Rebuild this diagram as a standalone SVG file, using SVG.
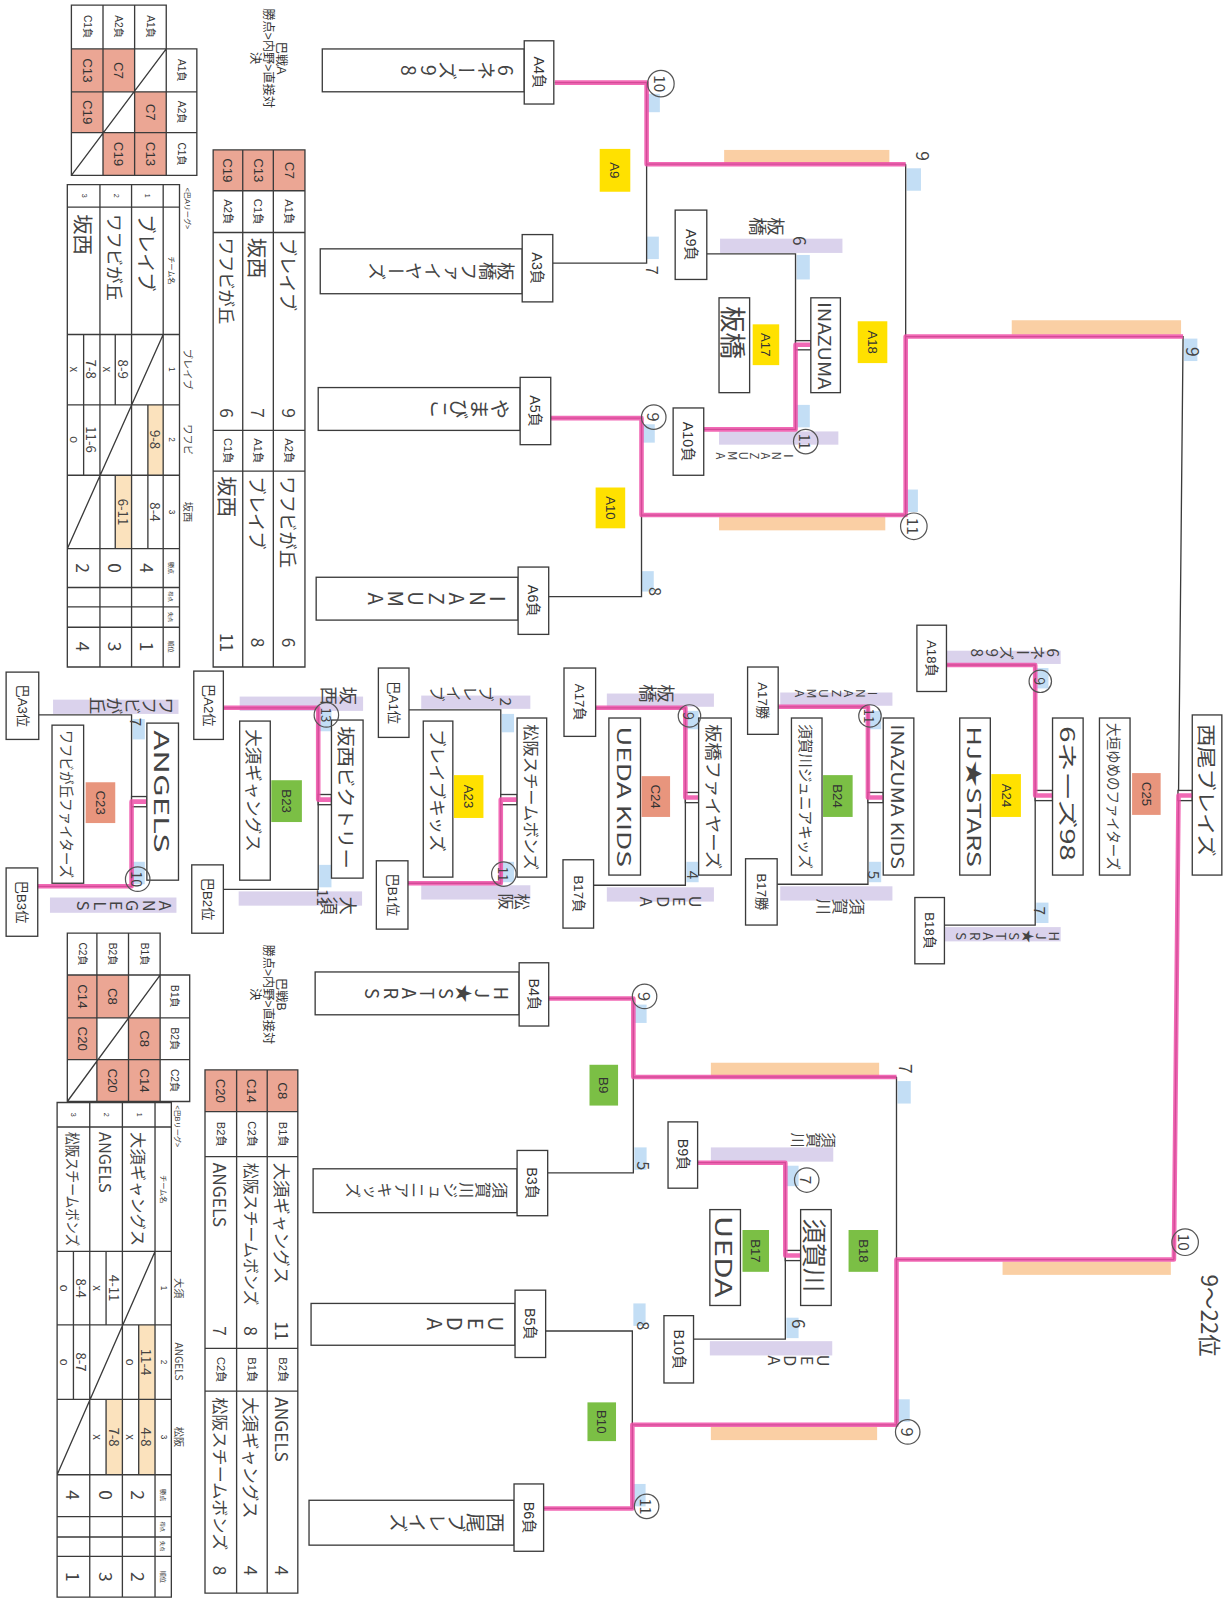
<svg xmlns="http://www.w3.org/2000/svg" width="1231" height="1599" viewBox="0 0 1231 1599">
<style>
.bx{fill:#fff;stroke:#3b3b3b;stroke-width:1.3}
.ln{fill:none;stroke:#3b3b3b;stroke-width:1.3}
.pk{fill:none;stroke:#ee4fa8;stroke-width:4.5;stroke-linejoin:round;opacity:.85}
.or{fill:#f9c794;opacity:.85}
.lv{fill:#d6cdea;opacity:.9}
.bl{fill:#bcdaf4;opacity:.9}
.ye{fill:#ffe100}
.gr{fill:#7bbf45}
.sa{fill:#e8957d}
.cp{fill:#eba694}
.hl{fill:#fbe2bd}
.t{font-family:"Liberation Sans","Noto Sans CJK JP",sans-serif;fill:#333;text-anchor:middle;dominant-baseline:central}
.s{text-anchor:start}
.h{font-family:"Noto Sans CJK JP","Noto Sans CJK SC",sans-serif;fill:#444;dominant-baseline:central}
.hm{font-family:"Noto Sans CJK JP","Noto Sans CJK SC",sans-serif;fill:#444;text-anchor:middle;dominant-baseline:central}
.v{writing-mode:vertical-rl;text-orientation:upright}
.c{fill:none;stroke:#555;stroke-width:1.2}
</style>
<rect width="1231" height="1599" fill="#fff"/>
<g transform="scale(1.0199)">

<g id="highlights">
<rect class="or" x="710" y="147" width="162" height="13"/>
<rect class="or" x="705" y="507" width="163" height="13"/>
<rect class="or" x="992" y="314" width="166" height="14"/>
<rect class="or" x="697" y="1042" width="165" height="13"/>
<rect class="or" x="697" y="1399" width="163" height="13"/>
<rect class="or" x="983" y="1237" width="165" height="13"/>
<rect class="lv" x="706" y="234" width="120" height="14"/>
<rect class="lv" x="705" y="423" width="117" height="13"/>
<rect class="lv" x="697" y="1125" width="120" height="14"/>
<rect class="lv" x="696" y="1315" width="120" height="14"/>
<rect class="lv" x="52" y="686" width="123" height="14"/>
<rect class="lv" x="49" y="880" width="124" height="15"/>
<rect class="lv" x="235" y="683" width="121" height="14"/>
<rect class="lv" x="234" y="874" width="121" height="14"/>
<rect class="lv" x="413" y="682" width="107" height="13"/>
<rect class="lv" x="413" y="868" width="107" height="14"/>
<rect class="lv" x="595" y="680" width="105" height="13"/>
<rect class="lv" x="595" y="870" width="105" height="14"/>
<rect class="lv" x="765" y="679" width="110" height="13"/>
<rect class="lv" x="765" y="869" width="110" height="14"/>
<rect class="lv" x="925" y="638" width="115" height="13"/>
<rect class="lv" x="925" y="909" width="115" height="14"/>
<rect class="bl" x="635" y="92" width="12" height="18"/>
<rect class="bl" x="634" y="232" width="12" height="22"/>
<rect class="bl" x="630" y="416" width="12" height="18"/>
<rect class="bl" x="629" y="560" width="12" height="20"/>
<rect class="bl" x="889" y="165" width="14" height="22"/>
<rect class="bl" x="887" y="480" width="13" height="22"/>
<rect class="bl" x="1161" y="332" width="13" height="22"/>
<rect class="bl" x="781" y="250" width="13" height="24"/>
<rect class="bl" x="781" y="397" width="13" height="22"/>
<rect class="bl" x="622" y="985" width="12" height="18"/>
<rect class="bl" x="622" y="1125" width="12" height="22"/>
<rect class="bl" x="621" y="1278" width="12" height="22"/>
<rect class="bl" x="621" y="1455" width="12" height="22"/>
<rect class="bl" x="880" y="1060" width="13" height="22"/>
<rect class="bl" x="879" y="1372" width="13" height="22"/>
<rect class="bl" x="771" y="1143" width="12" height="20"/>
<rect class="bl" x="771" y="1292" width="12" height="20"/>
<rect class="bl" x="130" y="705" width="12" height="20"/>
<rect class="bl" x="130" y="845" width="12" height="22"/>
<rect class="bl" x="313" y="697" width="12" height="20"/>
<rect class="bl" x="313" y="848" width="12" height="22"/>
<rect class="bl" x="492" y="700" width="12" height="18"/>
<rect class="bl" x="492" y="845" width="12" height="20"/>
<rect class="bl" x="673" y="697" width="12" height="18"/>
<rect class="bl" x="673" y="845" width="12" height="20"/>
<rect class="bl" x="852" y="697" width="12" height="18"/>
<rect class="bl" x="852" y="845" width="12" height="20"/>
<rect class="bl" x="1016" y="655" width="12" height="20"/>
<rect class="bl" x="1016" y="885" width="12" height="20"/>
</g>

<g id="connectors">
<path class="ln" d="M544 81H634V258H542M634 161H888M540 410H629V585H538M629 505H888M888 161V505M888 330H1160L1151 1235M693 249H780V421H690"/>
<path class="ln" d="M538 979H621V1150H537M621 1056H879M535 1305H620V1479H533M620 1397H879M879 1056V1397M879 1235H1151M684 1140H770V1313H680"/>
<path class="ln" d="M38 701H129V869H37M219 694H312V872H219M401 696H491V866H400M584 694H672V868H582M763 693H851V867H762M928 652H1015V907H926"/>
<rect class="bx" x="780" y="334" width="15" height="9"/>
<rect class="bx" x="770" y="1226" width="15" height="10"/>
<rect class="bx" x="129" y="781" width="15" height="10"/>
<rect class="bx" x="312" y="779" width="13" height="10"/>
<rect class="bx" x="491" y="779" width="16" height="10"/>
<rect class="bx" x="672" y="777" width="13" height="10"/>
<rect class="bx" x="851" y="777" width="15" height="10"/>
<rect class="bx" x="1015" y="775" width="17" height="10"/>
<rect class="bx" x="1155" y="775" width="14" height="10"/>
<path class="pk" d="M544 81H634V161H888"/>
<path class="pk" d="M540 410H629V505H888V330H1160"/>
<path class="pk" d="M533 1479H620V1397H879V1235H1151L1155.5 780H1169"/>
<path class="pk" d="M538 979H621V1056H879"/>
<path class="pk" d="M690 421H780V338H795"/>
<path class="pk" d="M684 1140H770V1231H785"/>
<path class="pk" d="M37 869H129V786H144"/>
<path class="pk" d="M219 694H312V784H325"/>
<path class="pk" d="M400 866H491V784H507"/>
<path class="pk" d="M584 694H672V782H685"/>
<path class="pk" d="M763 693H851V782H866"/>
<path class="pk" d="M928 652H1015V780H1032"/>
</g>

<g id="header-a">
<text class="t" font-size="12" transform="translate(276,57) rotate(90)">巴戦A</text>
<text class="t" font-size="12" transform="translate(263,57) rotate(90)">勝点&gt;内野&gt;直接対</text>
<text class="t" font-size="12" transform="translate(250,57) rotate(90)">決</text>
</g>
<g id="header-b">
<text class="t" font-size="12" transform="translate(276,975) rotate(90)">巴戦B</text>
<text class="t" font-size="12" transform="translate(263,975) rotate(90)">勝点&gt;内野&gt;直接対</text>
<text class="t" font-size="12" transform="translate(250,975) rotate(90)">決</text>
</g>

<g id="cross-a">
<rect class="cp" x="132" y="90" width="31" height="40"/><rect class="cp" x="132" y="130" width="31" height="42"/>
<rect class="cp" x="101" y="48" width="31" height="42"/><rect class="cp" x="101" y="130" width="31" height="42"/>
<rect class="cp" x="70" y="48" width="31" height="42"/><rect class="cp" x="70" y="90" width="31" height="40"/>
<path class="ln" d="M70 5H163V48H193V172H70ZM70 48H163M101 5V172M132 5V172M163 48V172M70 90H193M70 130H193M163 48L70 172"/>
<text class="t" font-size="10" transform="translate(85.5,26) rotate(90)">C1負</text>
<text class="t" font-size="10" transform="translate(116.5,26) rotate(90)">A2負</text>
<text class="t" font-size="10" transform="translate(147.5,26) rotate(90)">A1負</text>
<text class="t" font-size="10" transform="translate(178,69) rotate(90)">A1負</text>
<text class="t" font-size="10" transform="translate(178,110) rotate(90)">A2負</text>
<text class="t" font-size="10" transform="translate(178,151) rotate(90)">C1負</text>
<text class="t" font-size="13" transform="translate(147.5,110) rotate(90)">C7</text>
<text class="t" font-size="13" transform="translate(147.5,151) rotate(90)">C13</text>
<text class="t" font-size="13" transform="translate(116.5,69) rotate(90)">C7</text>
<text class="t" font-size="13" transform="translate(116.5,151) rotate(90)">C19</text>
<text class="t" font-size="13" transform="translate(85.5,69) rotate(90)">C13</text>
<text class="t" font-size="13" transform="translate(85.5,110) rotate(90)">C19</text>
</g>

<g id="league-a">
<rect class="hl" x="145" y="397" width="15" height="69"/>
<rect class="hl" x="113" y="466" width="16" height="72"/>
<path class="ln" d="M66 181H176V654H66ZM98 181V654M129 181V654M160 181V654M66 203H176M66 328H176M66 397H176M66 466H176M66 538H176M66 576H176M66 615H176M66 595H176M160 328L66 538M145 397V538M113 328V397M113 466V538M82 328V466"/>
<text class="t s" font-size="7" transform="translate(183,184) rotate(90)">&lt;巴Aリーグ&gt;</text>
<text class="t" font-size="7" transform="translate(168,265) rotate(90)">チーム名</text>
<text class="t" font-size="8" transform="translate(168,362) rotate(90)">1</text>
<text class="t" font-size="8" transform="translate(168,431) rotate(90)">2</text>
<text class="t" font-size="8" transform="translate(168,502) rotate(90)">3</text>
<text class="t" font-size="6" transform="translate(168,557) rotate(90)">勝点</text>
<text class="t" font-size="5" transform="translate(168,585) rotate(90)">得点</text>
<text class="t" font-size="5" transform="translate(168,605) rotate(90)">失点</text>
<text class="t" font-size="6" transform="translate(168,634) rotate(90)">順位</text>
<text class="t" font-size="7" transform="translate(144.5,192) rotate(90)">1</text>
<text class="t" font-size="7" transform="translate(113.5,192) rotate(90)">2</text>
<text class="t" font-size="7" transform="translate(82,192) rotate(90)">3</text>
<text class="h" font-size="19" transform="translate(144.5,210) rotate(90)">ブレイブ</text>
<text class="h" font-size="17" transform="translate(113.5,210) rotate(90)">ワフビが丘</text>
<text class="h" font-size="20" transform="translate(82,210) rotate(90)">坂西</text>
<text class="hm" font-size="10" transform="translate(185,362) rotate(90)">ブレイブ</text>
<text class="hm" font-size="10" transform="translate(185,431) rotate(90)">ワフビ</text>
<text class="hm" font-size="10" transform="translate(185,502) rotate(90)">坂西</text>
<text class="hm" font-size="13" transform="translate(152.5,431) rotate(90)">9-8</text>
<text class="hm" font-size="13" transform="translate(152.5,502) rotate(90)">8-4</text>
<text class="hm" font-size="13" transform="translate(121,362) rotate(90)">8-9</text>
<text class="hm" font-size="11" transform="translate(106,362) rotate(90)">x</text>
<text class="hm" font-size="13" transform="translate(121,502) rotate(90)">6-11</text>
<text class="hm" font-size="13" transform="translate(90,362) rotate(90)">7-8</text>
<text class="hm" font-size="11" transform="translate(74,362) rotate(90)">x</text>
<text class="hm" font-size="13" transform="translate(90,431) rotate(90)">11-6</text>
<text class="hm" font-size="11" transform="translate(74,431) rotate(90)">o</text>
<text class="hm" font-size="17" transform="translate(144.5,557) rotate(90)">4</text>
<text class="hm" font-size="17" transform="translate(113.5,557) rotate(90)">0</text>
<text class="hm" font-size="17" transform="translate(82,557) rotate(90)">2</text>
<text class="hm" font-size="17" transform="translate(144.5,634) rotate(90)">1</text>
<text class="hm" font-size="17" transform="translate(113.5,634) rotate(90)">3</text>
<text class="hm" font-size="17" transform="translate(82,634) rotate(90)">4</text>
</g>

<g id="result-a">
<rect class="cp" x="209" y="147" width="90" height="40"/>
<path class="ln" d="M209 147H299V654H209ZM238 147V654M268 147V654M209 187H299M209 228H299M209 422H299M209 462H299"/>
<text class="t" font-size="13" transform="translate(283.5,167) rotate(90)">C7</text>
<text class="t" font-size="13" transform="translate(253,167) rotate(90)">C13</text>
<text class="t" font-size="13" transform="translate(223.5,167) rotate(90)">C19</text>
<text class="t" font-size="11" transform="translate(283.5,207.5) rotate(90)">A1負</text>
<text class="t" font-size="11" transform="translate(253,207.5) rotate(90)">C1負</text>
<text class="t" font-size="11" transform="translate(223.5,207.5) rotate(90)">A2負</text>
<text class="h" font-size="18" transform="translate(283.5,233) rotate(90)">ブレイブ</text>
<text class="h" font-size="20" transform="translate(253,233) rotate(90)">坂西</text>
<text class="h" font-size="17" transform="translate(223.5,233) rotate(90)">ワフビが丘</text>
<text class="hm" font-size="17" transform="translate(283.5,405) rotate(90)">9</text>
<text class="hm" font-size="17" transform="translate(253,405) rotate(90)">7</text>
<text class="hm" font-size="17" transform="translate(223.5,405) rotate(90)">6</text>
<text class="t" font-size="11" transform="translate(283.5,442) rotate(90)">A2負</text>
<text class="t" font-size="11" transform="translate(253,442) rotate(90)">A1負</text>
<text class="t" font-size="11" transform="translate(223.5,442) rotate(90)">C1負</text>
<text class="h" font-size="18" transform="translate(283.5,467) rotate(90)">ワフビが丘</text>
<text class="h" font-size="18" transform="translate(253,467) rotate(90)">ブレイブ</text>
<text class="h" font-size="20" transform="translate(223.5,467) rotate(90)">坂西</text>
<text class="hm" font-size="17" transform="translate(283.5,630) rotate(90)">6</text>
<text class="hm" font-size="17" transform="translate(253,630) rotate(90)">8</text>
<text class="hm" font-size="17" transform="translate(223.5,630) rotate(90)">11</text>
</g>

<g id="cross-b">
<rect class="cp" x="126" y="998" width="31" height="41"/><rect class="cp" x="126" y="1039" width="31" height="41"/>
<rect class="cp" x="95" y="956" width="31" height="42"/><rect class="cp" x="95" y="1039" width="31" height="41"/>
<rect class="cp" x="66" y="956" width="29" height="42"/><rect class="cp" x="66" y="998" width="29" height="41"/>
<path class="ln" d="M66 915H157V956H186V1080H66ZM66 956H157M95 915V1080M126 915V1080M157 956V1080M66 998H186M66 1039H186M157 956L66 1080"/>
<text class="t" font-size="10" transform="translate(80.5,935.5) rotate(90)">C2負</text>
<text class="t" font-size="10" transform="translate(110.5,935.5) rotate(90)">B2負</text>
<text class="t" font-size="10" transform="translate(141.5,935.5) rotate(90)">B1負</text>
<text class="t" font-size="10" transform="translate(171.5,977) rotate(90)">B1負</text>
<text class="t" font-size="10" transform="translate(171.5,1018.5) rotate(90)">B2負</text>
<text class="t" font-size="10" transform="translate(171.5,1059.5) rotate(90)">C2負</text>
<text class="t" font-size="13" transform="translate(141.5,1018.5) rotate(90)">C8</text>
<text class="t" font-size="13" transform="translate(141.5,1059.5) rotate(90)">C14</text>
<text class="t" font-size="13" transform="translate(110.5,977) rotate(90)">C8</text>
<text class="t" font-size="13" transform="translate(110.5,1059.5) rotate(90)">C20</text>
<text class="t" font-size="13" transform="translate(80.5,977) rotate(90)">C14</text>
<text class="t" font-size="13" transform="translate(80.5,1018.5) rotate(90)">C20</text>
</g>

<g id="league-b">
<rect class="hl" x="136" y="1299" width="16" height="147"/>
<rect class="hl" x="104" y="1372" width="16" height="74"/>
<path class="ln" d="M56 1081H168V1566H56ZM88 1081V1566M120 1081V1566M152 1081V1566M56 1105H168M56 1227H168M56 1299H168M56 1372H168M56 1446H168M56 1487H168M56 1526H168M56 1507H168M152 1227L56 1446M136 1299V1446M104 1227V1299M104 1372V1446M72 1227V1372"/>
<text class="t s" font-size="7" transform="translate(174,1084) rotate(90)">&lt;巴Bリーグ&gt;</text>
<text class="t" font-size="7" transform="translate(160,1166) rotate(90)">チーム名</text>
<text class="t" font-size="8" transform="translate(160,1263) rotate(90)">1</text>
<text class="t" font-size="8" transform="translate(160,1335.5) rotate(90)">2</text>
<text class="t" font-size="8" transform="translate(160,1409) rotate(90)">3</text>
<text class="t" font-size="6" transform="translate(160,1466) rotate(90)">勝点</text>
<text class="t" font-size="5" transform="translate(160,1497) rotate(90)">得点</text>
<text class="t" font-size="5" transform="translate(160,1516) rotate(90)">失点</text>
<text class="t" font-size="6" transform="translate(160,1546) rotate(90)">順位</text>
<text class="t" font-size="7" transform="translate(136,1093) rotate(90)">1</text>
<text class="t" font-size="7" transform="translate(104,1093) rotate(90)">2</text>
<text class="t" font-size="7" transform="translate(72,1093) rotate(90)">3</text>
<text class="h" font-size="16" transform="translate(136,1110) rotate(90)">大須ギャングス</text>
<text class="h" font-size="16" transform="translate(104,1110) rotate(90)">ANGELS</text>
<text class="h" font-size="14" transform="translate(72,1110) rotate(90)" textLength="112" lengthAdjust="spacingAndGlyphs">松阪スチームボンズ</text>
<text class="hm" font-size="10" transform="translate(176,1263) rotate(90)">大須</text>
<text class="hm" font-size="10" transform="translate(176,1335) rotate(90)">ANGELS</text>
<text class="hm" font-size="10" transform="translate(176,1409) rotate(90)">松阪</text>
<text class="hm" font-size="13" transform="translate(144,1335.5) rotate(90)">11-4</text>
<text class="hm" font-size="11" transform="translate(128,1335.5) rotate(90)">o</text>
<text class="hm" font-size="13" transform="translate(144,1409) rotate(90)">4-8</text>
<text class="hm" font-size="11" transform="translate(128,1409) rotate(90)">x</text>
<text class="hm" font-size="13" transform="translate(112,1263) rotate(90)">4-11</text>
<text class="hm" font-size="11" transform="translate(96,1263) rotate(90)">x</text>
<text class="hm" font-size="13" transform="translate(112,1409) rotate(90)">7-8</text>
<text class="hm" font-size="11" transform="translate(96,1409) rotate(90)">x</text>
<text class="hm" font-size="13" transform="translate(80,1263) rotate(90)">8-4</text>
<text class="hm" font-size="11" transform="translate(64,1263) rotate(90)">o</text>
<text class="hm" font-size="13" transform="translate(80,1335.5) rotate(90)">8-7</text>
<text class="hm" font-size="11" transform="translate(64,1335.5) rotate(90)">o</text>
<text class="hm" font-size="17" transform="translate(136,1466) rotate(90)">2</text>
<text class="hm" font-size="17" transform="translate(104,1466) rotate(90)">0</text>
<text class="hm" font-size="17" transform="translate(72,1466) rotate(90)">4</text>
<text class="hm" font-size="17" transform="translate(136,1546) rotate(90)">2</text>
<text class="hm" font-size="17" transform="translate(104,1546) rotate(90)">3</text>
<text class="hm" font-size="17" transform="translate(72,1546) rotate(90)">1</text>
</g>

<g id="result-b">
<rect class="cp" x="201" y="1049" width="91" height="41"/>
<path class="ln" d="M201 1049H292V1562H201ZM232 1049V1562M262 1049V1562M201 1090H292M201 1134H292M201 1322H292M201 1364H292"/>
<text class="t" font-size="13" transform="translate(277,1069.5) rotate(90)">C8</text>
<text class="t" font-size="13" transform="translate(247,1069.5) rotate(90)">C14</text>
<text class="t" font-size="13" transform="translate(216.5,1069.5) rotate(90)">C20</text>
<text class="t" font-size="11" transform="translate(277,1112) rotate(90)">B1負</text>
<text class="t" font-size="11" transform="translate(247,1112) rotate(90)">C2負</text>
<text class="t" font-size="11" transform="translate(216.5,1112) rotate(90)">B2負</text>
<text class="h" font-size="17" transform="translate(277,1140) rotate(90)">大須ギャングス</text>
<text class="h" font-size="16" transform="translate(247,1140) rotate(90)" textLength="140" lengthAdjust="spacingAndGlyphs">松阪スチームボンズ</text>
<text class="h" font-size="17" transform="translate(216.5,1140) rotate(90)">ANGELS</text>
<text class="hm" font-size="17" transform="translate(277,1305) rotate(90)">11</text>
<text class="hm" font-size="17" transform="translate(247,1305) rotate(90)">8</text>
<text class="hm" font-size="17" transform="translate(216.5,1305) rotate(90)">7</text>
<text class="t" font-size="11" transform="translate(277,1343) rotate(90)">B2負</text>
<text class="t" font-size="11" transform="translate(247,1343) rotate(90)">B1負</text>
<text class="t" font-size="11" transform="translate(216.5,1343) rotate(90)">C2負</text>
<text class="h" font-size="17" transform="translate(277,1370) rotate(90)">ANGELS</text>
<text class="h" font-size="17" transform="translate(247,1370) rotate(90)">大須ギャングス</text>
<text class="h" font-size="16" transform="translate(216.5,1370) rotate(90)" textLength="150" lengthAdjust="spacingAndGlyphs">松阪スチームボンズ</text>
<text class="hm" font-size="17" transform="translate(277,1540) rotate(90)">4</text>
<text class="hm" font-size="17" transform="translate(247,1540) rotate(90)">4</text>
<text class="hm" font-size="17" transform="translate(216.5,1540) rotate(90)">8</text>
</g>

<g id="node-A4"><rect class="bx" x="316" y="48" width="198" height="42"/><rect class="bx" x="514" y="40" width="29" height="62"/><text class="t" font-size="14" transform="translate(528.5,71) rotate(90)">A4負</text><text class="h v" font-size="19" transform="translate(505,69) rotate(90)">6ネーズ98</text></g>
<g id="node-A3"><rect class="bx" x="314" y="244" width="198" height="44"/><rect class="bx" x="512" y="230" width="30" height="66"/><text class="t" font-size="14" transform="translate(527,263) rotate(90)">A3負</text><text class="h v" font-size="18" transform="translate(505,266) rotate(90)">板橋ファイヤーズ</text></g>
<g id="node-A5"><rect class="bx" x="312" y="380" width="198" height="42"/><rect class="bx" x="510" y="370" width="30" height="66"/><text class="t" font-size="14" transform="translate(525,403) rotate(90)">A5負</text><text class="h v" font-size="20" transform="translate(500,401) rotate(90)">やまびこ</text></g>
<g id="node-A6"><rect class="bx" x="310" y="566" width="198" height="42"/><rect class="bx" x="508" y="556" width="30" height="66"/><text class="t" font-size="14" transform="translate(523,589) rotate(90)">A6負</text><text class="h v" font-size="20" transform="translate(498,587) rotate(90)">INAZUMA</text></g>
<g id="node-B4"><rect class="bx" x="309" y="953" width="200" height="42"/><rect class="bx" x="509" y="944" width="29" height="62"/><text class="t" font-size="14" transform="translate(523.5,975) rotate(90)">B4負</text><text class="h v" font-size="18" transform="translate(500,974) rotate(90)">HJ★STARS</text></g>
<g id="node-B3"><rect class="bx" x="307" y="1146" width="200" height="43"/><rect class="bx" x="507" y="1128" width="30" height="64"/><text class="t" font-size="14" transform="translate(522,1160) rotate(90)">B3負</text><text class="h v" font-size="16" transform="translate(498,1167) rotate(90)">須賀川ジュニアキッズ</text></g>
<g id="node-B5"><rect class="bx" x="305" y="1278" width="200" height="41"/><rect class="bx" x="505" y="1265" width="30" height="66"/><text class="t" font-size="14" transform="translate(520,1298) rotate(90)">B5負</text><text class="h v" font-size="20" transform="translate(496,1298) rotate(90)">UEDA</text></g>
<g id="node-B6"><rect class="bx" x="303" y="1471" width="201" height="44"/><rect class="bx" x="504" y="1455" width="29" height="66"/><text class="t" font-size="14" transform="translate(518.5,1488) rotate(90)">B6負</text><text class="h v" font-size="19" transform="translate(495,1493) rotate(90)">西尾ブレイズ</text></g>

<g id="node-A9"><rect class="ye" x="588" y="146" width="30" height="42"/><text class="t" font-size="13" transform="translate(603,167) rotate(90)">A9</text></g>
<g id="node-A10"><rect class="ye" x="584" y="478" width="29" height="40"/><text class="t" font-size="13" transform="translate(598.5,498) rotate(90)">A10</text></g>
<g id="node-B9"><rect class="gr" x="578" y="1044" width="28" height="40"/><text class="t" font-size="13" transform="translate(592,1064) rotate(90)">B9</text></g>
<g id="node-B10"><rect class="gr" x="576" y="1375" width="28" height="38"/><text class="t" font-size="13" transform="translate(590,1394) rotate(90)">B10</text></g>

<g id="node-A9L"><rect class="bx" x="662" y="206" width="31" height="68"/><text class="t" font-size="14" transform="translate(677.5,240) rotate(90)">A9負</text></g>
<g id="node-A10L"><rect class="bx" x="660" y="400" width="30" height="66"/><text class="t" font-size="14" transform="translate(675,433) rotate(90)">A10負</text></g>
<g id="node-A17"><rect class="bx" x="705" y="292" width="30" height="93"/><text class="h" font-size="26" transform="translate(720,300) rotate(90)">板橋</text><rect class="ye" x="738" y="318" width="26" height="40"/><text class="t" font-size="13" transform="translate(751,338) rotate(90)">A17</text></g>
<g id="node-A18"><rect class="bx" x="795" y="292" width="29" height="93"/><text class="h" font-size="17" transform="translate(809.5,296) rotate(90)" textLength="86" lengthAdjust="spacingAndGlyphs">INAZUMA</text><rect class="ye" x="841" y="315" width="29" height="41"/><text class="t" font-size="13" transform="translate(855.5,335.5) rotate(90)">A18</text></g>

<g id="node-B9L"><rect class="bx" x="655" y="1100" width="29" height="65"/><text class="t" font-size="14" transform="translate(669.5,1132) rotate(90)">B9負</text></g>
<g id="node-B10L"><rect class="bx" x="651" y="1290" width="29" height="66"/><text class="t" font-size="14" transform="translate(665.5,1323) rotate(90)">B10負</text></g>
<g id="node-B17"><rect class="bx" x="696" y="1186" width="30" height="94"/><text class="h" font-size="22" transform="translate(711,1192) rotate(90)" textLength="80" lengthAdjust="spacingAndGlyphs">UEDA</text><rect class="gr" x="728" y="1206" width="26" height="41"/><text class="t" font-size="13" transform="translate(741,1226.5) rotate(90)">B17</text></g>
<g id="node-B18"><rect class="bx" x="785" y="1186" width="30" height="94"/><text class="h" font-size="24" transform="translate(800,1195) rotate(90)">須賀川</text><rect class="gr" x="832" y="1206" width="29" height="41"/><text class="t" font-size="13" transform="translate(846.5,1226.5) rotate(90)">B18</text></g>

<g id="node-C23">
<rect class="bx" x="6" y="659" width="32" height="66"/><text class="t" font-size="13" transform="translate(22,692) rotate(90)">巴A3位</text>
<rect class="bx" x="6" y="851" width="31" height="67"/><text class="t" font-size="13" transform="translate(21.5,884.5) rotate(90)">巴B3位</text>
<rect class="bx" x="51" y="711" width="31" height="155"/><text class="h" font-size="14" transform="translate(66.5,716) rotate(90)" textLength="145" lengthAdjust="spacingAndGlyphs">ワフビが丘ファイターズ</text>
<rect class="sa" x="84" y="767" width="29" height="40"/><text class="t" font-size="13" transform="translate(98.5,787) rotate(90)">C23</text>
<rect class="bx" x="144" y="709" width="31" height="154"/><text class="h" font-size="20" transform="translate(159.5,716) rotate(90)" textLength="120" lengthAdjust="spacingAndGlyphs">ANGELS</text>
</g>
<g id="node-B23">
<rect class="bx" x="190" y="658" width="29" height="67"/><text class="t" font-size="13" transform="translate(204.5,691.5) rotate(90)">巴A2位</text>
<rect class="bx" x="188" y="848" width="31" height="67"/><text class="t" font-size="13" transform="translate(203.5,881.5) rotate(90)">巴B2位</text>
<rect class="bx" x="235" y="707" width="30" height="156"/><text class="h" font-size="17" transform="translate(250,715) rotate(90)" textLength="120" lengthAdjust="spacingAndGlyphs">大須ギャングス</text>
<rect class="gr" x="266" y="765" width="30" height="41"/><text class="t" font-size="13" transform="translate(281,785.5) rotate(90)">B23</text>
<rect class="bx" x="325" y="706" width="31" height="155"/><text class="h" font-size="18" transform="translate(340.5,712) rotate(90)" textLength="140" lengthAdjust="spacingAndGlyphs">坂西ビクトリー</text>
</g>
<g id="node-A23">
<rect class="bx" x="371" y="655" width="30" height="68"/><text class="t" font-size="13" transform="translate(386,689) rotate(90)">巴A1位</text>
<rect class="bx" x="369" y="844" width="31" height="67"/><text class="t" font-size="13" transform="translate(384.5,877.5) rotate(90)">巴B1位</text>
<rect class="bx" x="415" y="707" width="29" height="153"/><text class="h" font-size="17" transform="translate(429.5,715) rotate(90)" textLength="120" lengthAdjust="spacingAndGlyphs">ブレイブキッズ</text>
<rect class="ye" x="445" y="760" width="29" height="42"/><text class="t" font-size="13" transform="translate(459.5,781) rotate(90)">A23</text>
<rect class="bx" x="507" y="704" width="29" height="156"/><text class="h" font-size="16" transform="translate(521.5,710) rotate(90)" textLength="143" lengthAdjust="spacingAndGlyphs">松阪スチームボンズ</text>
</g>
<g id="node-C24">
<rect class="bx" x="553" y="655" width="31" height="67"/><text class="t" font-size="13" transform="translate(568.5,688.5) rotate(90)">A17負</text>
<rect class="bx" x="552" y="843" width="30" height="67"/><text class="t" font-size="13" transform="translate(567,876.5) rotate(90)">B17負</text>
<rect class="bx" x="597" y="704" width="31" height="154"/><text class="h" font-size="18" transform="translate(612.5,712) rotate(90)" textLength="138" lengthAdjust="spacingAndGlyphs">UEDA KIDS</text>
<rect class="sa" x="629" y="761" width="28" height="40"/><text class="t" font-size="13" transform="translate(643,781) rotate(90)">C24</text>
<rect class="bx" x="685" y="704" width="32" height="154"/><text class="h" font-size="17" transform="translate(701,710) rotate(90)" textLength="142" lengthAdjust="spacingAndGlyphs">板橋ファイヤーズ</text>
</g>
<g id="node-B24">
<rect class="bx" x="733" y="654" width="30" height="66"/><text class="t" font-size="13" transform="translate(748,687) rotate(90)">A17勝</text>
<rect class="bx" x="731" y="842" width="31" height="65"/><text class="t" font-size="13" transform="translate(746.5,874.5) rotate(90)">B17勝</text>
<rect class="bx" x="776" y="704" width="30" height="154"/><text class="h" font-size="15" transform="translate(791,710) rotate(90)" textLength="142" lengthAdjust="spacingAndGlyphs">須賀川ジュニアキッズ</text>
<rect class="gr" x="807" y="760" width="29" height="41"/><text class="t" font-size="13" transform="translate(821.5,780.5) rotate(90)">B24</text>
<rect class="bx" x="866" y="704" width="30" height="154"/><text class="h" font-size="17" transform="translate(881,710) rotate(90)" textLength="142" lengthAdjust="spacingAndGlyphs">INAZUMA KIDS</text>
</g>
<g id="node-A24">
<rect class="bx" x="899" y="613" width="29" height="65"/><text class="t" font-size="13" transform="translate(913.5,645.5) rotate(90)">A18負</text>
<rect class="bx" x="897" y="880" width="29" height="65"/><text class="t" font-size="13" transform="translate(911.5,912.5) rotate(90)">B18負</text>
<rect class="bx" x="941" y="704" width="30" height="154"/><text class="h" font-size="18" transform="translate(956,712) rotate(90)" textLength="138" lengthAdjust="spacingAndGlyphs">HJ★STARS</text>
<rect class="ye" x="972" y="759" width="29" height="42"/><text class="t" font-size="13" transform="translate(986.5,780) rotate(90)">A24</text>
<rect class="bx" x="1032" y="704" width="30" height="154"/><text class="h" font-size="19" transform="translate(1047,712) rotate(90)" textLength="132" lengthAdjust="spacingAndGlyphs">6ネーズ98</text>
</g>
<g id="node-C25">
<rect class="bx" x="1078" y="704" width="30" height="154"/><text class="h" font-size="14" transform="translate(1093,709) rotate(90)" textLength="144" lengthAdjust="spacingAndGlyphs">大垣ゆめのファイターズ</text>
<rect class="sa" x="1110" y="758" width="28" height="41"/><text class="t" font-size="13" transform="translate(1124,778.5) rotate(90)">C25</text>
</g>
<g id="node-final">
<rect class="bx" x="1169" y="701" width="29" height="157"/><text class="h" font-size="19" transform="translate(1183.5,710) rotate(90)" textLength="130" lengthAdjust="spacingAndGlyphs">西尾ブレイズ</text>
</g>
<g id="title"><text class="hm" font-size="22" fill="#555" transform="translate(1187,1290) rotate(90)">9～22位</text></g>

<g id="annotations">
<circle class="c" cx="648" cy="82" r="13"/><text class="hm" font-size="15" transform="translate(648,82) rotate(90)">10</text>
<text class="hm" font-size="16" transform="translate(640,265) rotate(90)">7</text>
<circle class="c" cx="641" cy="409" r="12"/><text class="hm" font-size="16" transform="translate(641,409) rotate(90)">9</text>
<text class="hm" font-size="16" transform="translate(643,580) rotate(90)">8</text>
<text class="hm" font-size="17" transform="translate(905,153) rotate(90)">9</text>
<circle class="c" cx="896" cy="516" r="13"/><text class="hm" font-size="15" transform="translate(896,516) rotate(90)">11</text>
<text class="hm" font-size="17" transform="translate(785,236) rotate(90)">6</text>
<circle class="c" cx="790" cy="433" r="12"/><text class="hm" font-size="14" transform="translate(790,433) rotate(90)">11</text>
<text class="hm" font-size="17" transform="translate(1170,345) rotate(90)">9</text>
<circle class="c" cx="632" cy="977" r="12"/><text class="hm" font-size="16" transform="translate(632,977) rotate(90)">9</text>
<text class="hm" font-size="16" transform="translate(631,1143) rotate(90)">5</text>
<text class="hm" font-size="16" transform="translate(631,1300) rotate(90)">8</text>
<circle class="c" cx="634" cy="1477" r="12"/><text class="hm" font-size="14" transform="translate(634,1477) rotate(90)">11</text>
<text class="hm" font-size="17" transform="translate(889,1048) rotate(90)">7</text>
<circle class="c" cx="890" cy="1404" r="12"/><text class="hm" font-size="16" transform="translate(890,1404) rotate(90)">9</text>
<circle class="c" cx="791" cy="1157" r="12"/><text class="hm" font-size="15" transform="translate(791,1157) rotate(90)">7</text>
<text class="hm" font-size="17" transform="translate(784,1298) rotate(90)">6</text>
<circle class="c" cx="1162" cy="1218" r="13"/><text class="hm" font-size="15" transform="translate(1162,1218) rotate(90)">10</text>
<circle class="c" cx="135" cy="862" r="12"/><text class="hm" font-size="14" transform="translate(135,862) rotate(90)">10</text>
<text class="hm" font-size="15" transform="translate(134,708) rotate(90)">7</text>
<circle class="c" cx="320" cy="701" r="12"/><text class="hm" font-size="13" transform="translate(320,701) rotate(90)">13</text>
<text class="hm" font-size="15" transform="translate(318,880) rotate(90)">11</text>
<text class="hm" font-size="15" transform="translate(497,688) rotate(90)">2</text>
<circle class="c" cx="494" cy="857" r="12"/><text class="hm" font-size="13" transform="translate(494,857) rotate(90)">11</text>
<circle class="c" cx="676" cy="702" r="11"/><text class="hm" font-size="14" transform="translate(676,702) rotate(90)">9</text>
<text class="hm" font-size="15" transform="translate(680,858) rotate(90)">4</text>
<circle class="c" cx="853" cy="702" r="11"/><text class="hm" font-size="13" transform="translate(853,702) rotate(90)">11</text>
<text class="hm" font-size="15" transform="translate(858,858) rotate(90)">5</text>
<circle class="c" cx="1020" cy="668" r="11"/><text class="hm" font-size="14" transform="translate(1020,668) rotate(90)">9</text>
<text class="hm" font-size="15" transform="translate(1021,893) rotate(90)">7</text>
<text class="h v" font-size="18" transform="translate(770,222) rotate(90)">板橋</text>
<text class="h v" font-size="11" transform="translate(778,447) rotate(90)">INAZUMA</text>
<text class="h v" font-size="15" transform="translate(820,1118) rotate(90)">須賀川</text>
<text class="h v" font-size="16" transform="translate(815,1334) rotate(90)">UEDA</text>
<text class="h v" font-size="17" transform="translate(172,692) rotate(90)">ワフビが丘</text>
<text class="h v" font-size="16" transform="translate(170,888) rotate(90)">ANGELS</text>
<text class="h v" font-size="18" transform="translate(350,682) rotate(90)">坂西</text>
<text class="h v" font-size="18" transform="translate(350,888) rotate(90)">大須</text>
<text class="h v" font-size="16" transform="translate(485,680) rotate(90)">ブレイブ</text>
<text class="h v" font-size="16" transform="translate(520,884) rotate(90)">松阪</text>
<text class="h v" font-size="18" transform="translate(662,680) rotate(90)">板橋</text>
<text class="h v" font-size="16" transform="translate(690,884) rotate(90)">UEDA</text>
<text class="h v" font-size="12" transform="translate(862,680) rotate(90)">INAZUMA</text>
<text class="h v" font-size="16" transform="translate(848,889) rotate(90)">須賀川</text>
<text class="h v" font-size="15" transform="translate(1040,640) rotate(90)">6ネーズ98</text>
<text class="h v" font-size="13" transform="translate(1040,918) rotate(90)">HJ★STARS</text>
</g>
</g>
</svg>
